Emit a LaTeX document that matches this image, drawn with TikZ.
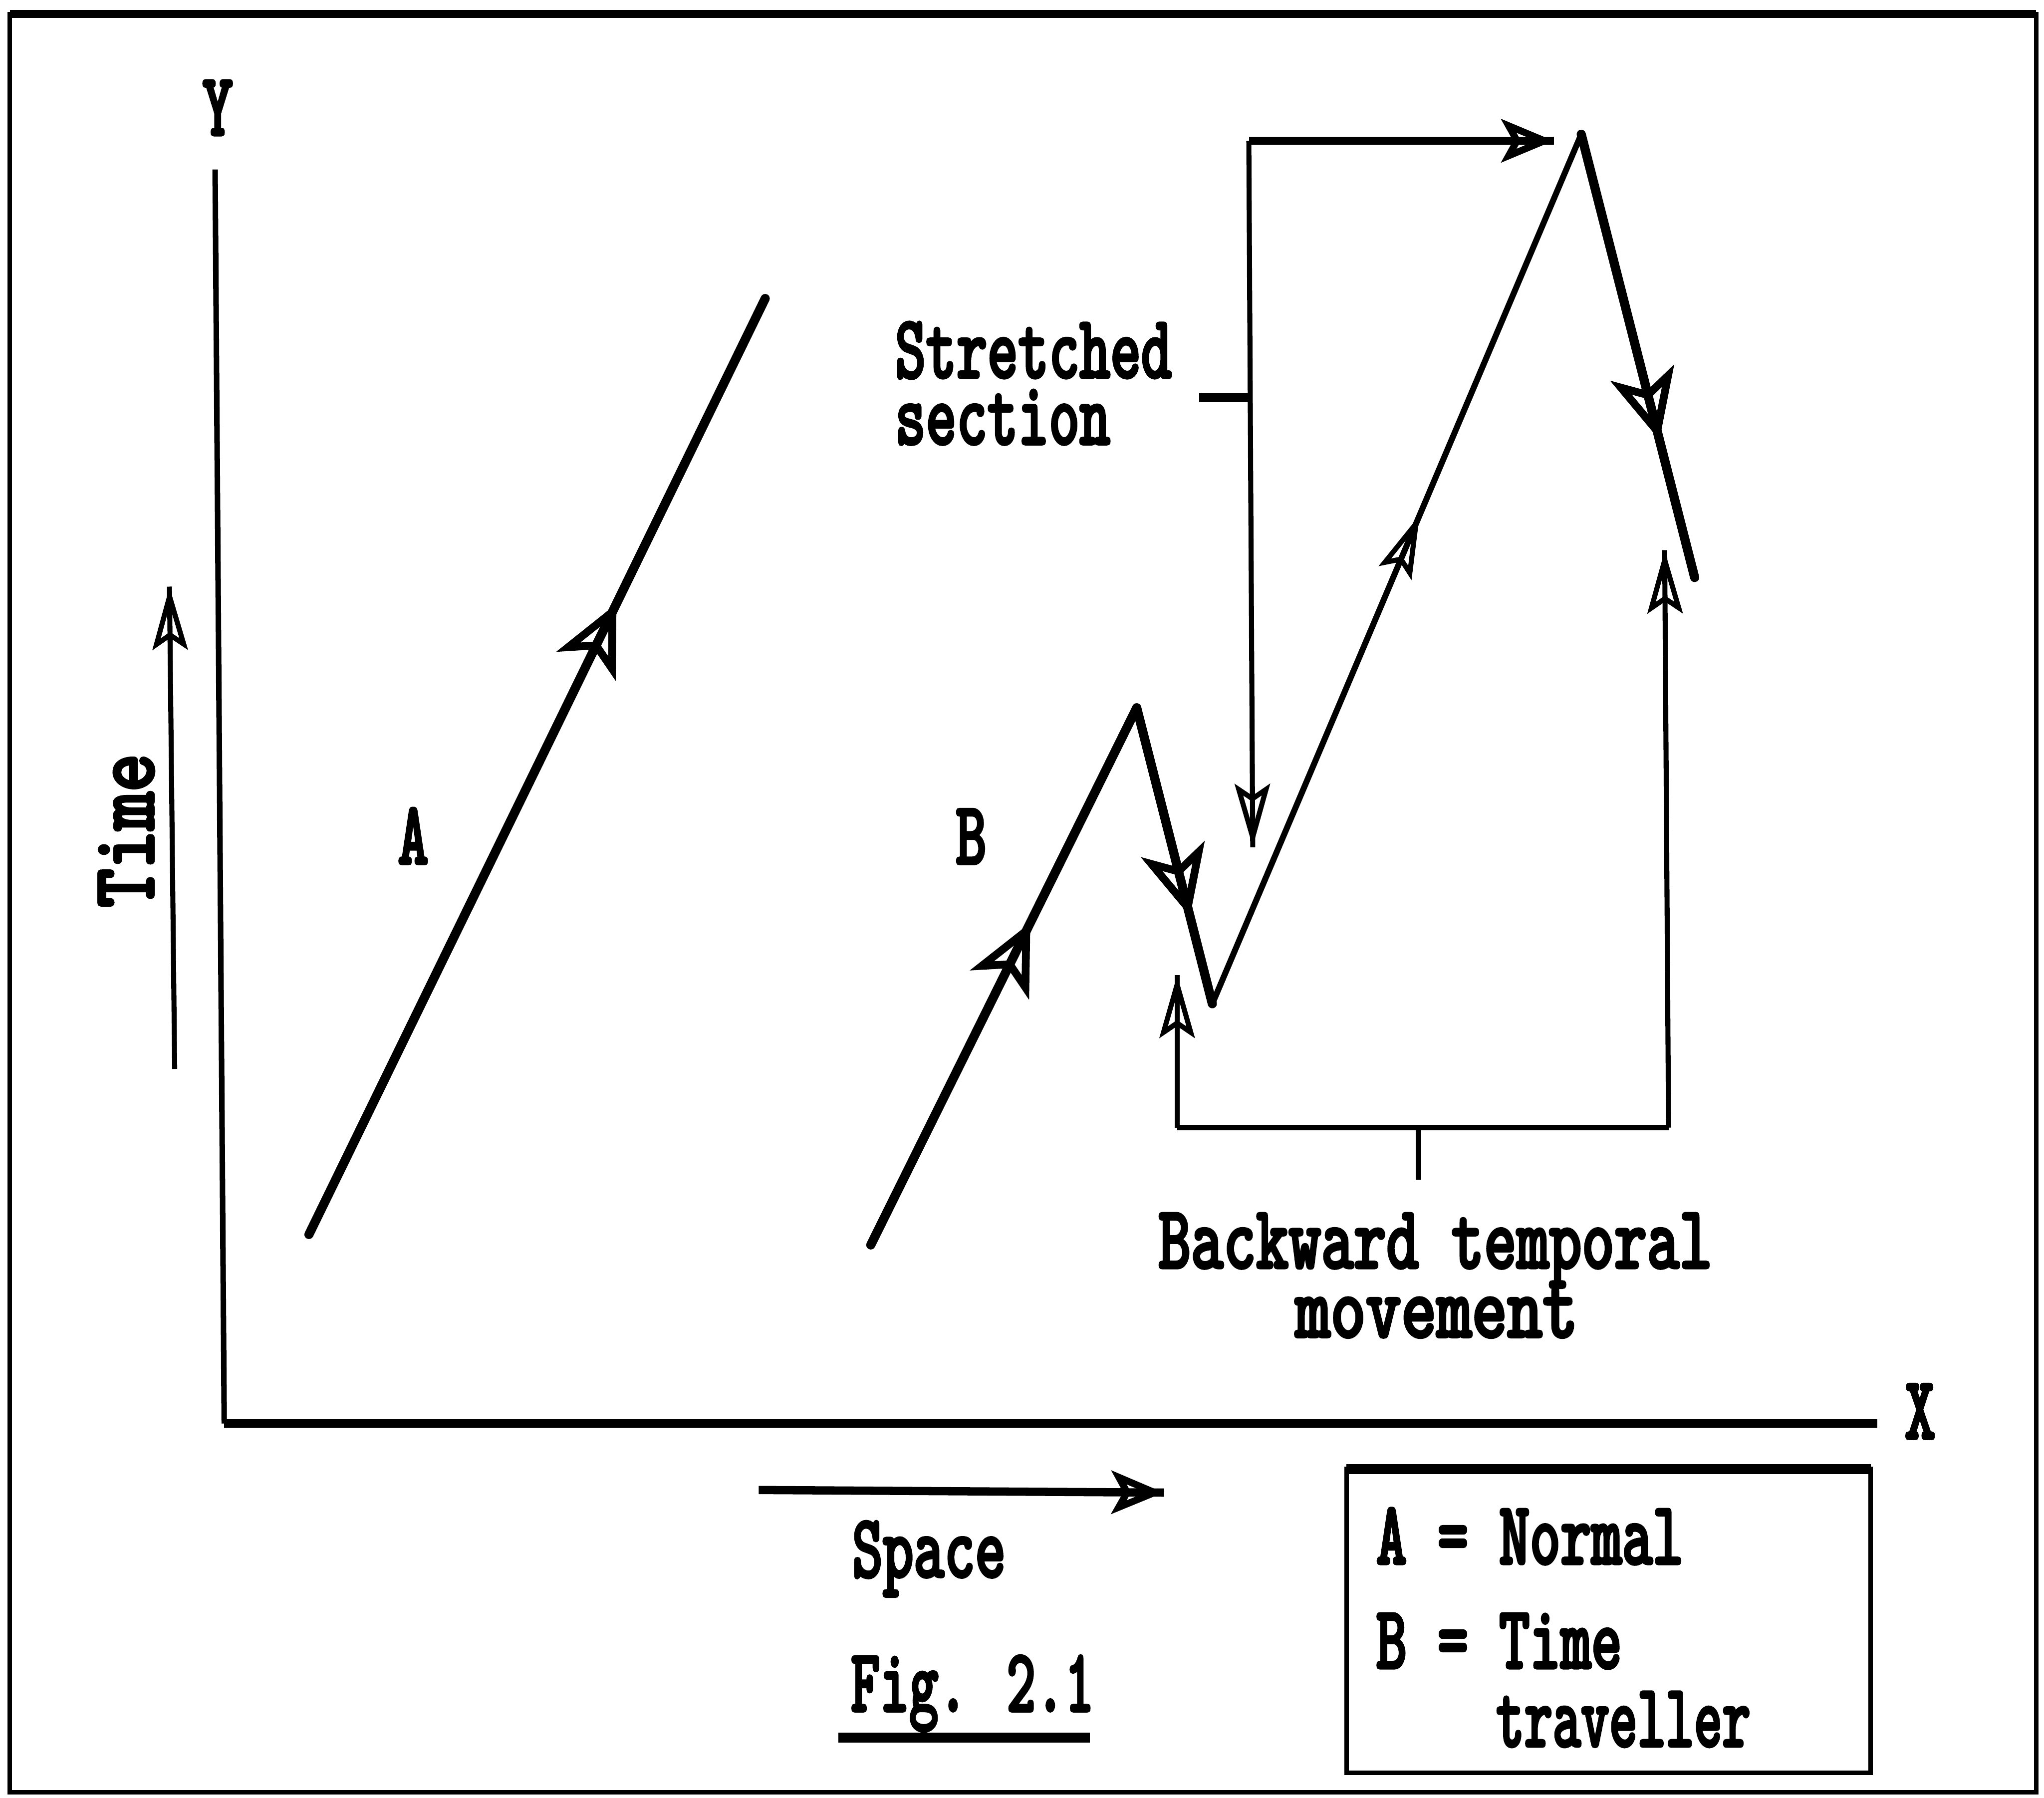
\documentclass[tikz,border=0pt]{standalone}
\usepackage{fontspec}
\newfontfamily\tw{lmmonolt10-bold}[Extension=.otf,FakeStretch=0.645,FakeBold=2.2]
\usetikzlibrary{arrows.meta,decorations.markings}
\tikzset{
  bighead/.tip={Stealth[open,length=5.3mm,width=5mm,inset=1.4mm,line width=1.7pt]},
  smallhead/.tip={Stealth[open,length=4.8mm,width=2.7mm,inset=0.9mm,line width=1.1pt]},
  medhead/.tip={Stealth[open,length=4mm,width=3.3mm,inset=0.9mm,line width=1.5pt]},
  lbl/.style={inner sep=0pt,text height=11.8pt,text depth=2pt,font={\tw\fontsize{19.8}{22}\selectfont}},
  midarrow/.style args={#1 at #2}{postaction={decorate,decoration={markings,mark=at position #2 with {\arrow{#1}}}}},
  thickline/.style={line width=2pt,line cap=round,line join=miter},
  thinline/.style={line width=1.1pt},
}
\begin{document}
\begin{tikzpicture}[x=0.01cm,y=-0.01cm]
\useasboundingbox (0,0) rectangle (1568,1379);
% frame
\coordinate (f1) at (7.6,10.8);
\coordinate (f2) at (1562,10.8);
\coordinate (f3) at (1562,1375);
\coordinate (f4) at (7.6,1375);
\draw[line width=1pt] (f1) -- (f2) -- (f3) -- (f4) -- cycle;
\draw[line width=1.8pt] (f1) -- (f2);
% axes
\coordinate (ytop) at (165,130);
\coordinate (orig) at (172,1092);
\coordinate (xend) at (1440,1092);
\draw[line width=1.2pt] (ytop) -- (orig);
\draw[line width=1.8pt] (orig) -- (xend);
\node[lbl,anchor=base] (Y) at (167,104) {Y};
\node[lbl,anchor=base] (X) at (1473,1104) {X};
% time arrow
\coordinate (t0) at (134,820);
\coordinate (t1) at (130,450);
\draw[thinline,midarrow={smallhead at 0.999}] (t0) -- (t1);
\node[lbl,rotate=90,anchor=base] (time) at (118,637) {\scalebox{1.25}[1]{Time}};
% space arrow
\coordinate (s0) at (582,1143);
\coordinate (s1) at (893,1145);
\draw[line width=1.8pt,midarrow={medhead at 0.999}] (s0) -- (s1);
\node[lbl,anchor=base west] (space) at (653,1210) {Space};
% fig caption
\node[lbl,anchor=base west] (fig) at (652,1313) {\scalebox{0.95}[1]{Fig. 2.1}};
\coordinate (u0) at (643,1333);
\coordinate (u1) at (836,1333);
\draw[line width=2.2pt] (u0) -- (u1);
% A line
\coordinate (a0) at (237,947);
\coordinate (a1) at (587,229);
\draw[thickline,midarrow={bighead at 0.674}] (a0) -- (a1);
\node[lbl,anchor=base] (A) at (317,663) {A};
% B path
\coordinate (b0) at (668,955);
\coordinate (b1) at (872,543);
\coordinate (b2) at (930,770);
\coordinate (b3) at (1213,103);
\coordinate (b4) at (1300,443);
\node[lbl,anchor=base] (B) at (745,663) {B};
\draw[thickline,midarrow={bighead at 0.6}] (b0) -- (b1);
\draw[thickline,midarrow={bighead at 0.705}] (b1) -- (b2);
\draw[line width=1.3pt,line join=miter,midarrow={smallhead at 0.562}] (b2) -- (b3);
\draw[thickline,midarrow={bighead at 0.69}] (b3) -- (b4);
% stretched section bracket
\coordinate (st0) at (958,108);
\coordinate (st1) at (1192,108);
\coordinate (st2) at (961,650);
\coordinate (stk0) at (920,305);
\coordinate (stk1) at (958,305);
\draw[line width=1.8pt,midarrow={medhead at 0.999}] (st0) -- (st1);
\draw[thinline,midarrow={smallhead at 0.999}] (st0) -- (st2);
\draw[line width=2pt] (stk0) -- (stk1);
\node[lbl,anchor=base west] (str1) at (686,290) {Stretched};
\node[lbl,anchor=base west] (str2) at (686,341) {section};
% backward temporal bracket
\coordinate (bk0) at (903,865);
\coordinate (bk1) at (1280,865);
\coordinate (bkl) at (903,748);
\coordinate (bkr) at (1277,422);
\coordinate (bt0) at (1088,865);
\coordinate (bt1) at (1088,905);
\draw[line width=1.2pt] (bk0) -- (bk1);
\draw[thinline,midarrow={smallhead at 0.999}] (bk0) -- (bkl);
\draw[thinline,midarrow={smallhead at 0.999}] (bk1) -- (bkr);
\draw[line width=1.2pt] (bt0) -- (bt1);
\node[lbl,anchor=base] (bw1) at (1101,973) {\scalebox{1.06}[1]{Backward temporal}};
\node[lbl,anchor=base] (bw2) at (1102,1026) {\scalebox{1.15}[1]{movement}};
% legend
\coordinate (l1) at (1033,1127);
\coordinate (l2) at (1435,1127);
\coordinate (l3) at (1435,1360);
\coordinate (l4) at (1033,1360);
\draw[line width=1pt] (l1) -- (l2) -- (l3) -- (l4) -- cycle;
\draw[line width=2.2pt] (l1) -- (l2);
\node[lbl,anchor=base west] (lg1) at (1055,1200) {A = Normal};
\node[lbl,anchor=base west] (lg2) at (1055,1280) {B = Time};
\node[lbl,anchor=base west] (lg3) at (1147,1340) {\scalebox{0.92}[1]{traveller}};
\end{tikzpicture}
\end{document}
